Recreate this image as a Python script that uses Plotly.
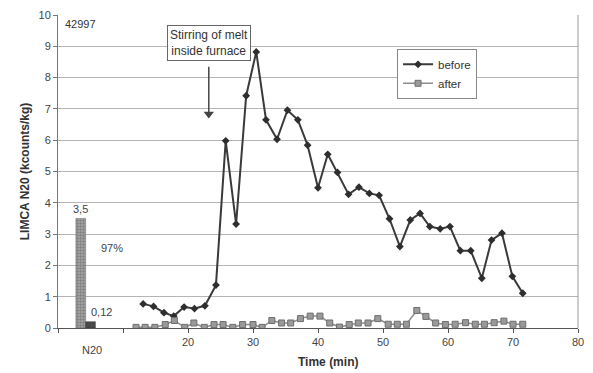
import plotly.graph_objects as go

# "before" series (time in min, LIMCA N20 kcounts/kg)
before_t = [13.1, 14.7, 16.3, 17.8, 19.4, 21.0, 22.6, 24.3, 25.8, 27.4, 28.95, 30.5, 32.0, 33.7,
            35.3, 36.9, 38.4, 40.0, 41.5, 43.0, 44.7, 46.3, 47.9, 49.4, 51.0, 52.6, 54.2, 55.7,
            57.2, 58.8, 60.3, 61.9, 63.5, 65.2, 66.7, 68.3, 69.9, 71.5]
before_v = [0.77, 0.69, 0.49, 0.38, 0.67, 0.62, 0.71, 1.37, 5.98, 3.32, 7.42, 8.82, 6.65, 6.03,
            6.96, 6.65, 5.84, 4.48, 5.55, 4.97, 4.27, 4.50, 4.30, 4.24, 3.49, 2.60, 3.45, 3.66,
            3.24, 3.17, 3.24, 2.47, 2.47, 1.59, 2.81, 3.03, 1.65, 1.11]

# "after" series
after_t = [12.0, 13.4, 14.9, 16.5, 17.9, 19.5, 20.9, 22.5, 24.0, 25.4, 26.9, 28.4, 30.0, 31.4,
           32.9, 34.4, 35.8, 37.3, 38.8, 40.3, 41.8, 43.3, 44.8, 46.2, 47.7, 49.2, 50.8, 52.2,
           53.6, 55.2, 56.6, 58.1, 59.6, 61.1, 62.7, 64.2, 65.6, 67.1, 68.6, 70.0, 71.5]
after_v = [0.02, 0.02, 0.02, 0.11, 0.24, 0.02, 0.16, 0.02, 0.11, 0.11, 0.02, 0.11, 0.11, 0.02,
           0.24, 0.16, 0.16, 0.30, 0.38, 0.38, 0.16, 0.03, 0.11, 0.16, 0.16, 0.30, 0.12, 0.12,
           0.12, 0.56, 0.37, 0.16, 0.11, 0.12, 0.17, 0.12, 0.12, 0.17, 0.22, 0.12, 0.12]

# N20 summary bars
bar_pos = [3.5, 5.0]
bar_vals = [3.5, 0.2]
bar_labels = ["3,5", "0,12"]

# stirring event arrow (time, top value, tip value)
stir_t = 23.2
stir_from = 8.35
stir_to = 6.72

x_ticks = [0, 10, 20, 30, 40, 50, 60, 70, 80]
x_ticktext = ["", "", "20", "30", "40", "50", "60", "70", "80"]
y_ticks = list(range(0, 11))

FONT = "Liberation Sans, Arial, sans-serif"

fig = go.Figure()

fig.add_trace(go.Bar(
    x=[bar_pos[0]], y=[bar_vals[0]], width=1.5, showlegend=False,
    marker=dict(color="#9a9a9a", line=dict(color="#666", width=0.5),
                pattern=dict(shape=".", fgcolor="#555555", bgcolor="#a8a8a8", size=3, solidity=0.5)),
    hoverinfo="skip"))
fig.add_trace(go.Bar(
    x=[bar_pos[1]], y=[bar_vals[1]], width=1.5, showlegend=False,
    marker=dict(color="#4a4a4a", line=dict(color="#333", width=0.5)),
    hoverinfo="skip"))

fig.add_trace(go.Scatter(
    x=before_t, y=before_v, mode="lines+markers", name="before",
    line=dict(color="#3a3a3a", width=2),
    marker=dict(symbol="diamond", size=6, color="#2e2e2e")))
fig.add_trace(go.Scatter(
    x=after_t, y=after_v, mode="lines+markers", name="after",
    line=dict(color="#8c8c8c", width=1.5),
    marker=dict(symbol="square", size=6, color="#9a9a9a", line=dict(color="#6e6e6e", width=1))))

# arrow: shaft + head
fig.add_trace(go.Scatter(
    x=[stir_t, stir_t], y=[stir_from, stir_to + 0.1], mode="lines", showlegend=False,
    line=dict(color="#444", width=1.5), hoverinfo="skip"))
fig.add_trace(go.Scatter(
    x=[stir_t], y=[stir_to + 0.12], mode="markers", showlegend=False,
    marker=dict(symbol="triangle-down", size=9, color="#444"), hoverinfo="skip"))

annotations = [
    dict(x=bar_pos[0], y=bar_vals[0], text=bar_labels[0], showarrow=False, yanchor="bottom",
         yshift=1, font=dict(size=11, color="#444")),
    dict(x=bar_pos[1] - 0.3, y=bar_vals[1], text=bar_labels[1], showarrow=False, yanchor="bottom",
         xanchor="left", yshift=2, font=dict(size=11, color="#444")),
    dict(x=6.3, y=2.55, text="97%", showarrow=False, xanchor="left", font=dict(size=11, color="#444")),
    dict(x=0.7, y=9.72, text="42997", showarrow=False, xanchor="left", font=dict(size=11, color="#333")),
    dict(x=5.3, y=-0.045, xref="x", yref="paper", text="N20", showarrow=False, yanchor="top",
         font=dict(size=11, color="#444")),
    dict(x=23.2, y=9.1, text="Stirring of melt<br>inside furnace", showarrow=False,
         font=dict(size=12, color="#333"), bordercolor="#666", borderwidth=1, borderpad=2,
         bgcolor="white"),
    dict(x=0.52, y=-0.109, xref="paper", yref="paper", text="<b>Time (min)</b>", showarrow=False,
         xanchor="center", yanchor="middle", font=dict(size=12, color="#333")),
    dict(x=-0.064, y=0.5, xref="paper", yref="paper", text="<b>LIMCA N20 (kcounts/kg)</b>",
         xanchor="center", yanchor="middle",
         textangle=-90, showarrow=False, font=dict(size=12, color="#333")),
]

fig.update_layout(
    width=593, height=373,
    margin=dict(l=58, r=9, t=13, b=45),
    paper_bgcolor="white", plot_bgcolor="white",
    font=dict(family=FONT, size=11, color="#444"),
    barmode="overlay",
    annotations=annotations,
    legend=dict(x=0.652, y=0.892, xanchor="left", yanchor="top",
                bordercolor="#888", borderwidth=1, bgcolor="white",
                font=dict(size=11.5, color="#333"), tracegroupgap=2, itemwidth=30),
    xaxis=dict(range=[0, 80], tickvals=x_ticks, ticktext=x_ticktext, showgrid=False,
               showline=True, linecolor="#555", linewidth=1, ticks="outside", ticklen=4,
               tickcolor="#555", mirror=False, zeroline=False),
    yaxis=dict(range=[0, 10], tickvals=y_ticks, showgrid=True, gridcolor="#b5b5b5", gridwidth=1,
               showline=True, linecolor="#777", linewidth=1, ticks="outside", ticklen=4,
               tickcolor="#777", zeroline=False),
)

fig.add_shape(type="line", xref="paper", yref="paper", x0=1, x1=1, y0=0, y1=1,
              line=dict(color="#999", width=1))

fig.write_html("out.html")
